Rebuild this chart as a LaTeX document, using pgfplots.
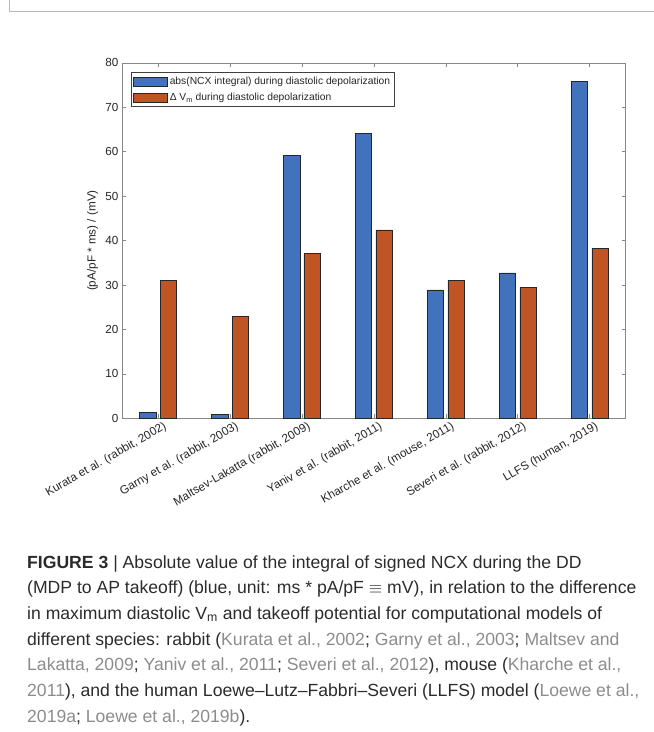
\documentclass[border=0pt]{standalone}
\usepackage{fontspec}
\setmainfont{Liberation Sans}
\usepackage{pgfplots}
\pgfplotsset{compat=1.18}
\definecolor{barblue}{RGB}{65,114,187}
\definecolor{barorange}{RGB}{191,85,36}
\definecolor{axgray}{RGB}{135,135,135}
\definecolor{txt}{RGB}{38,38,38}
\definecolor{framegray}{RGB}{185,185,185}
\definecolor{captxt}{RGB}{45,42,43}
\definecolor{citegray}{RGB}{140,140,140}
\newcommand\cg[1]{\textcolor{citegray}{#1}}
\begin{document}
\begin{tikzpicture}[x=1pt,y=1pt]
\path[use as bounding box] (0pt,0pt) rectangle (654pt,732pt);
\draw[framegray, line width=1pt] (9.5pt,732pt) -- (9.5pt,720.3pt) -- (654pt,720.3pt);
\begin{axis}[
  at={(122pt,313.7pt)}, anchor=south west,
  width=503.7pt, height=355.5pt, scale only axis,
  xmin=0.5, xmax=7.5, ymin=0, ymax=80,
  ybar=4.2pt, bar width=16.4pt,
  xtick={1,2,3,4,5,6,7},
  xticklabels={{Kurata et al. (rabbit, 2002)},{Garny et al. (rabbit, 2003)},{Maltsev-Lakatta (rabbit, 2009)},{Yaniv et al. (rabbit, 2011)},{Kharche et al. (mouse, 2011)},{Severi et al. (rabbit, 2012)},{LLFS (human, 2019)}},
  ytick={0,10,20,30,40,50,60,70,80},
  tick align=inside, major tick length=4pt,
  axis line style={axgray, line width=0.6pt},
  every tick/.style={axgray, line width=0.6pt},
  tick label style={font=\fontsize{11.7}{13}\selectfont, text=txt},
  xticklabel style={rotate=30, anchor=north east, inner sep=1pt, xshift=4pt, yshift=-3.5pt},
  /pgf/number format/assume math mode=true,
  ylabel={(pA/pF * ms) / (mV)},
  ylabel style={at={(axis description cs:-0.0586,0.5)}, anchor=center, font=\fontsize{11.7}{13}\selectfont, text=txt},
  legend style={at={(0.0179,0.973)}, anchor=north west, draw=black!75, line width=0.5pt,
    font=\fontsize{10.3}{12}\selectfont, text=txt, inner xsep=2pt, inner ysep=2.5pt, row sep=3pt},
  legend cell align=left,
]
\addplot[fill=barblue, draw=black!85, line width=0.5pt,
  legend image code/.code={\draw[fill=barblue,draw=black!85,line width=0.5pt] (0pt,-4.5pt) rectangle (34pt,4.5pt);}]
  coordinates {(1,1.3) (2,0.8) (3,59.1) (4,64.1) (5,28.9) (6,32.7) (7,75.8)};
\addlegendentry{abs(NCX integral) during diastolic depolarization}
\addplot[fill=barorange, draw=black!85, line width=0.5pt,
  legend image code/.code={\draw[fill=barorange,draw=black!85,line width=0.5pt] (0pt,-4.5pt) rectangle (34pt,4.5pt);}]
  coordinates {(1,31.1) (2,23.0) (3,37.1) (4,42.4) (5,31.1) (6,29.5) (7,38.3)};
\addlegendentry{Δ V\textsubscript{m} during diastolic depolarization}
\end{axis}
\begin{scope}[every node/.style={anchor=base west, inner sep=0pt, font=\fontsize{17.6}{20}\selectfont, text=captxt}]
\node at (27pt,163.8pt) {\textbf{FIGURE 3} | Absolute value of the integral of signed NCX during the DD};
\node at (27pt,138.3pt) {(MDP to AP takeoff) (blue, unit: ms * pA/pF \ensuremath{\equiv} mV), in relation to the difference};
\node at (27pt,112.6pt) {in maximum diastolic V\textsubscript{m} and takeoff potential for computational models of};
\node at (27pt,86.9pt) {different species: rabbit (\cg{Kurata et al., 2002}; \cg{Garny et al., 2003}; \cg{Maltsev and}};
\node at (27pt,61.2pt) {\cg{Lakatta, 2009}; \cg{Yaniv et al., 2011}; \cg{Severi et al., 2012}), mouse (\cg{Kharche et al.,}};
\node at (27pt,35.5pt) {\cg{2011}), and the human Loewe–Lutz–Fabbri–Severi (LLFS) model (\cg{Loewe et al.,}};
\node at (27pt,9.8pt) {\cg{2019a}; \cg{Loewe et al., 2019b}).};
\end{scope}
\end{tikzpicture}
\end{document}
